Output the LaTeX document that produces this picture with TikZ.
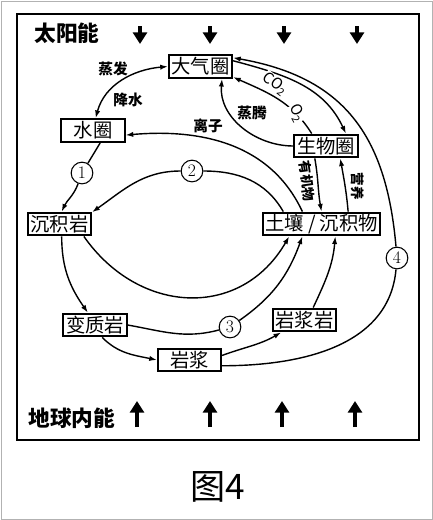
\documentclass[tikz,border=0pt]{standalone}
\usepackage{fontspec}
\newfontfamily\cjk{Noto Sans CJK SC}
\usetikzlibrary{arrows.meta}

\tikzset{
  box/.style={draw, line width=1.7pt, minimum width=54pt, minimum height=19.5pt, inner xsep=2pt, inner ysep=0.5pt, font=\cjk\fontsize{16.5}{17}\selectfont},
  lbl/.style={font=\cjk\bfseries\fontsize{12.5}{13}\selectfont},
  biglbl/.style={font=\cjk\bfseries\fontsize{18.5}{19}\selectfont},
  tilted/.style={font=\cjk\bfseries\fontsize{11.5}{12}\selectfont, inner sep=1pt},
  gas/.style={font=\cjk\fontsize{13}{13}\selectfont, inner sep=0.3pt, fill=white},
  num/.style={circle, draw, line width=0.9pt, fill=white, minimum size=18.5pt, inner sep=0pt, font=\fontsize{15}{15}\selectfont},
  flow/.style={line width=1.2pt},
  energy/.style={line width=2.8pt, -{Triangle[length=10pt,width=12pt]}}
}

\begin{document}
\begin{tikzpicture}[x=0.03cm, y=-0.03cm, >={Latex[length=6.5pt,width=4.5pt]}]
                \useasboundingbox (0,0) rectangle (433,520);
                \draw[gray!60, line width=0.8pt] (1,1) rectangle (432,519);
                \draw[line width=2.2pt] (17,14) rectangle (419,440);

                \node[biglbl] (sun) at (67,33) {太阳能};
                \node[biglbl] (earth) at (72,418) {地球内能};
                \foreach \x [count=\i] in {140,210,284,357} {
                    \coordinate (s\i) at (\x,26); \coordinate (t\i) at (\x,44);
                    \draw[energy] (s\i) -- (t\i);
                }
                \foreach \x [count=\i] in {137,210,282,355} {
                    \coordinate (b\i) at (\x,427); \coordinate (u\i) at (\x,401);
                    \draw[energy] (b\i) -- (u\i);
                }

                \node[box] (atm) at (200.5,66.5) {大气圈};
                \node[box] (hyd) at (93,130.5) {水圈};
                \node[box] (bio) at (326,146) {生物圈};
                \node[box] (sed) at (59.5,224) {沉积岩};
                \node[box] (soil) at (321.5,224) {土壤 / 沉积物};
                \node[box] (meta) at (95,325) {变质岩};
                \node[box] (ign) at (304.5,320) {岩浆岩};
                \node[box] (mag) at (189.5,360) {岩浆};

                \node[num] (n1) at (82,173) {1};
                \node[num] (n2) at (192,171) {2};
                \node[num] (n3) at (230,327) {3};
                \node[num] (n4) at (397,258) {4};

                \node[lbl] (evap) at (113,69) {蒸发};
                \node[lbl] (rain) at (128,100) {降水};
                \node[lbl] (ion) at (208,126) {离子};
                \node[lbl] (trans) at (252,113) {蒸腾};
                \node[tilted, rotate=-82] (org) at (307,181) {有机物};
                \node[tilted, rotate=-90] (nutr) at (358,186) {营养};

                \draw[flow,<->] (atm.west) to[out=185,in=75] (hyd.78);
                \draw[flow,->] (hyd.-60) -- (n1) to[out=-110,in=65] (sed.80);
                \draw[flow,->] (bio.west) to[out=180,in=-95] (atm.-30);
                \draw[flow,->] (atm.10) to[out=-15,in=115] (bio.32);
                \draw[flow,->] (bio.139) to[out=122,in=-24] (atm.-18);
                \draw[flow,->] (mag.-10) to[out=0,in=-95] (n4) to[out=95,in=-10,looseness=1.15] (atm.15);
                \draw[flow,->] (soil.147) to[out=115,in=5] (hyd.-8);
                \draw[flow,->] (soil.162) to[out=120,in=0] (n2) to[out=180,in=35] (sed.20);
                \draw[flow,->] (sed.-27) to[out=-55,in=-120,looseness=1.2] (soil.-159);
                \draw[flow,->] (sed.-80) to[out=-90,in=125] (meta.120);
                \draw[flow,->] (meta.-60) to[out=-45,in=168] (mag.west);
                \draw[flow,->] (meta.east) to[out=-10,in=195] (n3) to[out=35,in=-110] (soil.-147);
                \draw[flow,->] (mag.8) to[out=20,in=210] (ign.-152);
                \draw[flow,->] (ign.55) to[out=65,in=-95] (soil.-42);
                \draw[flow,->] (bio.-132) to[out=-80,in=100] (soil.north); \draw[flow,->] (soil.25) to[out=95,in=-80] (bio.-41);

                \node[gas, rotate=-38] (co2) at (275,84) {CO\textsubscript{2}};
                \node[gas, rotate=-62] (o2) at (297,113) {O\textsubscript{2}};

                \node[font=\cjk\fontsize{30}{30}\selectfont] (fig) at (218,487) {图4};
            \end{tikzpicture}
\end{document}
